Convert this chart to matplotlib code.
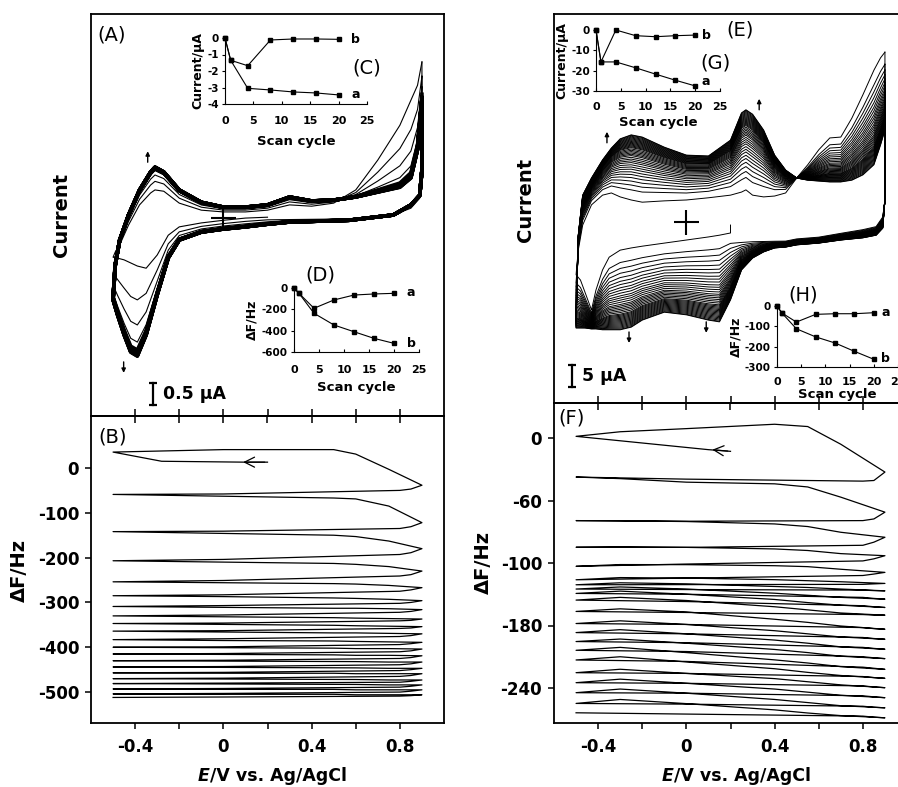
import numpy as np
import matplotlib
matplotlib.use('Agg')
import matplotlib.pyplot as plt

plt.rcParams['font.family'] = ['DejaVu Sans']
plt.rcParams['axes.unicode_minus'] = False

# ================= Panel A : cyclic voltammograms (current in uA) =================
A_fwd_E = [-0.50, -0.49, -0.47, -0.43, -0.38, -0.33, -0.31, -0.27, -0.20, -0.10, 0.00,
           0.10, 0.20, 0.30, 0.40, 0.50, 0.60, 0.70, 0.80, 0.85, 0.88, 0.90]
A_fwd_first = [-0.89, -0.77, -0.61, -0.16, 0.30, 0.57, 0.64, 0.61, 0.34, 0.18, 0.14,
               0.14, 0.18, 0.30, 0.27, 0.34, 0.64, 1.32, 2.11, 2.68, 3.02, 3.55]
A_fwd_last = [-1.86, -1.07, -0.50, 0.07, 0.64, 1.05, 1.16, 1.05, 0.64, 0.36, 0.25,
              0.25, 0.30, 0.48, 0.39, 0.41, 0.48, 0.59, 0.70, 0.91, 1.55, 2.68]
A_rev_E = [0.90, 0.90, 0.89, 0.85, 0.77, 0.57, 0.30, 0.20, 0.10, 0.00, -0.10, -0.20,
           -0.25, -0.30, -0.35, -0.39, -0.42, -0.45, -0.48, -0.50]
A_rev_first = [3.55, 1.09, 0.41, 0.18, 0.07, 0.00, 0.00, 0.02, 0.00, -0.05, -0.11, -0.20,
               -0.39, -0.84, -1.14, -1.09, -1.02, -0.95, -0.91, -0.89]
A_rev_last = [2.68, 1.09, 0.52, 0.30, 0.07, -0.05, -0.09, -0.14, -0.20, -0.25, -0.32, -0.50,
              -0.91, -1.75, -2.66, -3.14, -3.05, -2.66, -2.20, -1.86]
A_start_E = 0.20
# cathodic current at -0.39 V for each of the 20 scans
A_cath_peak = [-1.09, -1.86, -2.43, -2.82, -3.00, -3.03, -3.05, -3.06, -3.07, -3.08,
               -3.09, -3.10, -3.10, -3.11, -3.11, -3.12, -3.12, -3.13, -3.13, -3.14]

# ================= Panel E : cyclic voltammograms (current in uA) =================
E_fwd_E = [-0.50, -0.49, -0.47, -0.43, -0.38, -0.34, -0.30, -0.25, -0.20, -0.10, 0.00,
           0.10, 0.20, 0.25, 0.27, 0.30, 0.35, 0.40, 0.45, 0.50, 0.55, 0.60, 0.65, 0.70,
           0.75, 0.80, 0.85, 0.88, 0.90]
E_fwd_first = [-12.0, -6.4, -0.7, 3.9, 6.1, 6.6, 5.7, 5.0, 4.5, 4.8, 5.0, 5.5, 6.1, 6.8,
               7.3, 6.1, 5.7, 5.9, 6.6, 10.0, 13.0, 16.4, 19.1, 19.3, 23.6, 28.9, 34.5,
               37.3, 38.6]
E_fwd_last = [-24.1, -3.0, 6.1, 10.0, 14.1, 16.8, 18.9, 19.8, 19.3, 17.0, 15.2, 15.0, 18.6,
              24.8, 25.5, 24.5, 20.9, 15.2, 11.8, 10.0, 9.5, 9.3, 9.1, 9.1, 9.5, 10.7,
              13.0, 17.5, 20.9]
E_rev_E = [0.90, 0.90, 0.89, 0.86, 0.80, 0.70, 0.60, 0.50, 0.45, 0.40, 0.35, 0.30, 0.25,
           0.20, 0.15, 0.10, 0.00, -0.10, -0.20, -0.25, -0.30, -0.35, -0.38, -0.41, -0.43,
           -0.46, -0.48, -0.50]
E_rev_first = [38.6, 5.0, 1.6, -0.7, -1.4, -2.3, -3.2, -3.6, -4.1, -4.1, -4.0, -3.8, -3.5,
               -2.5, -3.0, -3.4, -4.1, -4.8, -5.5, -5.9, -6.4, -8.0, -10.9, -15.5, -20.0,
               -15.9, -13.2, -12.0]
E_rev_last = [20.9, 5.0, -1.4, -3.0, -3.6, -4.1, -4.8, -5.2, -5.7, -5.9, -6.8, -8.2, -10.9,
              -17.7, -22.7, -22.3, -21.1, -20.5, -22.3, -23.9, -24.5, -24.5, -24.5, -24.3,
              -24.3, -24.1, -24.1, -24.1]
E_start = (0.20, -0.7)
# anodic current at -0.25 V for each scan
E_anod_peak = [5.0, 7.3, 8.4, 9.3, 10.1, 10.8, 11.4, 12.0, 12.5, 13.0, 13.5, 13.9, 14.3,
               14.7, 15.1, 15.4, 15.7, 16.0, 16.3, 16.6, 16.9, 17.1, 17.3, 17.5, 17.7,
               17.9, 18.1, 18.3, 18.5, 18.7, 18.9, 19.1, 19.3, 19.5, 19.7, 19.8]

# ================= Panel B : frequency change (Hz) =================
B_init_E = [0.20, 0.10, -0.28, -0.50]
B_init_dF = [13, 13, 15, 35.5]
B_fwd_E = [-0.50, 0.00, 0.50, 0.60, 0.75, 0.90]
B_fwd = [[35.5, 41, 41, 31, -3, -38.5],
         [-59, -63, -67, -69, -85, -122],
         [-142, -146, -150, -153, -163, -180],
         [-207, -210, -213, -215, -220, -230],
         [-254, -256, -258, -259, -262, -267],
         [-285, -287, -290, -291, -293, -296],
         [-309, -311, -313, -313, -314, -316],
         [-330, -332, -334, -335, -336, -337],
         [-347, -349, -351, -352, -353, -354],
         [-364, -366, -368, -368, -369, -370],
         [-383, -385, -386, -387, -388, -389],
         [-400, -401, -402, -403, -403, -404],
         [-415, -416, -417, -418, -418, -419],
         [-430, -431, -432, -432, -433, -433],
         [-444, -445, -446, -446, -447, -447],
         [-457, -458, -458, -459, -459, -459],
         [-470, -471, -472, -472, -473, -473],
         [-481, -482, -483, -483, -484, -484],
         [-493, -494, -494, -495, -495, -495],
         [-504, -505, -505, -506, -506, -506]]
B_rev_E = [0.90, 0.85, 0.80, 0.00, -0.50]
B_rev = [[-38.5, -47, -50, -58, -59],
         [-122, -131, -135, -141, -142],
         [-180, -189, -193, -204, -207],
         [-230, -238, -241, -251, -254],
         [-267, -272, -275, -283, -285],
         [-296, -300, -302, -307, -309],
         [-316, -320, -322, -328, -330],
         [-337, -340, -341, -346, -347],
         [-354, -357, -358, -363, -364],
         [-370, -374, -376, -381, -383],
         [-389, -392, -394, -399, -400],
         [-404, -408, -410, -414, -415],
         [-419, -423, -425, -429, -430],
         [-433, -437, -439, -443, -444],
         [-447, -450, -452, -456, -457],
         [-459, -463, -465, -469, -470],
         [-473, -476, -478, -480, -481],
         [-484, -487, -489, -492, -493],
         [-495, -498, -500, -503, -504],
         [-506, -508, -509, -511, -512]]

# ================= Panel F : frequency change (Hz) =================
F_init_E = [0.20, 0.10, -0.50]
F_init_dF = [-12.8, -11.2, 1.6]
F_fwd_E = [-0.50, -0.30, 0.00, 0.40, 0.55, 0.70, 0.90]
F_fwd = [[1.6, 6, 9, 13.2, 11, -6, -32.7],
         [-37.5, -39, -42.4, -44, -47, -56.8, -71.2],
         [-79.3, -79.5, -80.2, -82.5, -85, -90.5, -95.3],
         [-104.9, -104.5, -105, -106.5, -108, -111, -113],
         [-123.2, -121.5, -121.6, -122.6, -123.5, -126, -129],
         [-136.1, -134, -134.5, -136, -137, -138, -139.6],
         [-140.9, -139, -140, -142.5, -143.5, -145, -146.7],
         [-145, -143, -145, -149, -151, -153, -154.7],
         [-149.2, -147, -150, -155, -158, -160.5, -162.7],
         [-155.6, -153, -156, -162, -165, -168, -170.1],
         [-166.5, -164, -167, -174, -177, -180.5, -183.6],
         [-178.1, -175.5, -179, -185, -188, -191, -193.2],
         [-186.8, -184, -188, -194, -197, -200.5, -202.8],
         [-195.4, -193, -197, -203, -206, -209.5, -211.8],
         [-203.8, -201, -206, -213, -216, -219.5, -222.1],
         [-213.1, -210, -215, -221.5, -225, -228, -230.7],
         [-225.3, -222, -226, -231, -234, -237, -239.7],
         [-234.9, -231.5, -235.5, -241, -244, -247, -249.3],
         [-244.5, -241, -245, -251, -254, -257, -259],
         [-254.8, -251, -255, -261, -264, -266.5, -268.6]]
F_rev_E = [0.90, 0.85, 0.80, 0.00, -0.50]
F_rev = [[-32.7, -40.8, -41.4, -39.5, -37.5],
         [-71.2, -77.7, -79.3, -79.9, -79.3],
         [-95.3, -100, -103, -105, -104.9],
         [-113, -116, -118, -121, -123.2],
         [-129, -130.6, -132, -134.5, -136.1],
         [-139.6, -140, -140.5, -140.8, -140.9],
         [-146.7, -146.5, -146, -145.5, -145],
         [-154.7, -154, -153, -150, -149.2],
         [-162.7, -162, -161, -157, -155.6],
         [-170.1, -170, -169.5, -167.5, -166.5],
         [-183.6, -183, -182, -179, -178.1],
         [-193.2, -192.5, -191.5, -188, -186.8],
         [-202.8, -202, -201, -196.5, -195.4],
         [-211.8, -211, -210, -205, -203.8],
         [-222.1, -221, -220, -214.5, -213.1],
         [-230.7, -230, -229, -226, -225.3],
         [-239.7, -239, -238, -235.5, -234.9],
         [-249.3, -248.5, -247.5, -245, -244.5],
         [-259, -258.5, -257.5, -255.5, -254.8],
         [-268.6, -268, -267, -265, -263.8]]
F_ytick_vals = [0, -60, -120, -180, -240]
F_ytick_labels = ['0', '-60', '-100', '-180', '-240']

# ================= Insets =================
scan_cycle = [0, 1, 4, 8, 12, 16, 20]
C_a = [0, -1.35, -3.05, -3.15, -3.27, -3.33, -3.45]
C_b = [0, -1.35, -1.68, -0.12, -0.06, -0.06, -0.08]
D_a = [0, -50, -190, -112, -66, -56, -50]
D_b = [0, -50, -237, -347, -410, -472, -519]
G_a = [0, -15.7, -15.7, -18.6, -21.7, -24.7, -27.5]
G_b = [0, -15.7, 0, -2.8, -3.3, -2.8, -2.5]
H_a = [0, -34, -79, -41, -38, -38, -33]
H_b = [0, -34, -112, -152, -182, -223, -262]

# ---------------------------------------------------------------------------
W, H = 898, 787
fig = plt.figure(figsize=(W / 100, H / 100), dpi=100)


def rect(x0, y0, x1, y1):
    return [x0 / W, 1 - y1 / H, (x1 - x0) / W, (y1 - y0) / H]


def fp(x, y):
    return (x / W, 1 - y / H)


SPW = 1.3
axA = fig.add_axes(rect(91, 14, 444, 416))
axB = fig.add_axes(rect(91, 416, 444, 723))
axE = fig.add_axes(rect(554, 14, 907, 403))
axF = fig.add_axes(rect(554, 403, 907, 723))

for ax in (axA, axB, axE, axF):
    ax.set_xlim(-0.6, 1.0)
    for s in ax.spines.values():
        s.set_linewidth(SPW)

axA.set_ylim(-4.5, 4.64)
axE.set_ylim(-41.14, 47.27)
axB.set_ylim(-569, 116)
axF.set_ylim(-273.6, 33.6)

xt_all = [-0.4, -0.2, 0.0, 0.2, 0.4, 0.6, 0.8]
for ax in (axA, axE):
    ax.set_yticks([])
    ax.set_xticks(xt_all)
    ax.tick_params(axis='x', direction='in', length=5, width=1.1, labelbottom=False)

for ax in (axB, axF):
    ax.set_xticks([-0.4, 0.0, 0.4, 0.8])
    ax.set_xticklabels(['-0.4', '0', '0.4', '0.8'])
    ax.set_xticks([-0.2, 0.2, 0.6], minor=True)
    ax.tick_params(axis='x', which='both', direction='out', length=4.5, width=1.1,
                   labelsize=12, pad=6)
    ax.tick_params(axis='y', direction='out', length=4.5, width=1.1, labelsize=12, pad=4)
    top = ax.secondary_xaxis('top')
    top.set_xticks(xt_all)
    top.tick_params(axis='x', direction='in', length=5, width=1.1, labeltop=False)
    for s in top.spines.values():
        s.set_linewidth(SPW)

axB.set_yticks([0, -100, -200, -300, -400, -500])
axB.set_yticklabels(['0', '-100', '-200', '-300', '-400', '-500'])
axF.set_yticks(F_ytick_vals)
axF.set_yticklabels(F_ytick_labels)
for ax in (axB, axF):
    for t in ax.get_xticklabels() + ax.get_yticklabels():
        t.set_fontweight('bold')


def blend(first, last, w):
    return (1 - w) * np.asarray(first, float) + w * np.asarray(last, float)


# ---- Panel A curves ----
pk = np.asarray(A_cath_peak)
wA = (pk - pk[0]) / (pk[-1] - pk[0])
prev = None
for k, w in enumerate(wA):
    rE = np.asarray(A_rev_E, float)
    rI = blend(A_rev_first, A_rev_last, w)
    if k == 0:
        m = rE <= A_start_E + 1e-9
        rE, rI = rE[m], rI[m]
    else:
        rI[0] = prev
    fI = blend(A_fwd_first, A_fwd_last, w)
    prev = fI[-1]
    lw = 2.6 if w > 0.9 else 0.8
    axA.plot(np.r_[rE, A_fwd_E], np.r_[rI, fI], color='k', lw=lw,
             solid_joinstyle='round', zorder=3 if w <= 0.9 else 2)

# ---- Panel E curves ----
pe = np.asarray(E_anod_peak)
wE = (pe - pe[0]) / (pe[-1] - pe[0])
prev = None
for k, w in enumerate(wE):
    rE = np.asarray(E_rev_E, float)
    rI = blend(E_rev_first, E_rev_last, w)
    if k == 0:
        m = rE <= E_start[0] + 1e-9
        rE = np.r_[E_start[0], rE[m]]
        rI = np.r_[E_start[1], rI[m]]
    else:
        rI[0] = prev
    fI = blend(E_fwd_first, E_fwd_last, w)
    prev = fI[-1]
    axE.plot(np.r_[rE, E_fwd_E], np.r_[rI, fI], color='k', lw=0.7,
             solid_joinstyle='round')

# ---- Panel B / F curves ----
for ax, iE, idF, fE, fwd, rEg, rev in (
        (axB, B_init_E, B_init_dF, B_fwd_E, B_fwd, B_rev_E, B_rev),
        (axF, F_init_E, F_init_dF, F_fwd_E, F_fwd, F_rev_E, F_rev)):
    xs = list(iE)
    ys = list(idF)
    for frow, rrow in zip(fwd, rev):
        xs += list(fE) + list(rEg)
        ys += list(frow) + list(rrow)
    ax.plot(xs, ys, color='k', lw=0.9, solid_joinstyle='round')

axB.annotate('', xy=(0.077, 13), xytext=(0.2, 13),
             arrowprops=dict(arrowstyle='->', lw=0.9, color='k', mutation_scale=18))
axF.annotate('', xy=(0.105, -11.0), xytext=(0.2, -12.8),
             arrowprops=dict(arrowstyle='->', lw=0.9, color='k', mutation_scale=18))

# ---- markers, arrows, scale bars ----
axA.plot([0], [0], marker='+', ms=18, mew=1.5, color='k')
axE.plot([0], [0], marker='+', ms=18, mew=1.5, color='k')


def varrow(ax, x, y0, y1):
    ax.annotate('', xy=(x, y1), xytext=(x, y0),
                arrowprops=dict(arrowstyle='-|>', lw=1.0, color='k', mutation_scale=6,
                                shrinkA=0, shrinkB=0))


varrow(axA, -0.343, 1.27, 1.52)
varrow(axA, -0.452, -3.27, -3.52)
varrow(axE, -0.36, 18.0, 20.5)
varrow(axE, 0.33, 25.5, 28.0)
varrow(axE, -0.26, -25.0, -27.5)
varrow(axE, 0.09, -22.7, -25.2)

axA.plot([-0.321, -0.321], [-3.75, -4.25], color='k', lw=1.6, marker='_', ms=6, mew=1.6)
axA.text(-0.275, -4.0, '0.5 μA', fontsize=12.5, fontweight='bold', va='center', ha='left')
axE.plot([-0.518, -0.518], [-32.5, -37.5], color='k', lw=1.6, marker='_', ms=6, mew=1.6)
axE.text(-0.475, -35.0, '5 μA', fontsize=12.5, fontweight='bold', va='center', ha='left')


# ---- insets ----
def inset(r, a, b, ylim, yticks, ylabel, la, lb, pad, labelpad):
    ax = fig.add_axes(r)
    ax.patch.set_visible(False)
    for series in (a, b):
        ax.plot(scan_cycle, series, color='k', lw=0.8, marker='s', ms=2.2, clip_on=False)
    ax.set_xlim(0, 25)
    ax.set_ylim(*ylim)
    for s in ('top', 'right'):
        ax.spines[s].set_visible(False)
    for s in ('left', 'bottom'):
        ax.spines[s].set_linewidth(0.8)
    ax.set_xticks([0, 5, 10, 15, 20, 25])
    ax.set_xticklabels(['0', '5', '10', '15', '20', '25'])
    ax.set_yticks(yticks)
    ax.set_yticklabels([str(v) for v in yticks])
    ax.tick_params(axis='x', direction='in', length=2.5, width=0.8, pad=pad, labelsize=8)
    ax.tick_params(axis='y', direction='out', length=2.5, width=0.8, pad=2, labelsize=7.5)
    for t in ax.get_xticklabels() + ax.get_yticklabels():
        t.set_fontweight('bold')
    ax.set_xlabel('Scan cycle', fontsize=9.5, fontweight='bold', labelpad=labelpad)
    ax.set_ylabel(ylabel, fontsize=9, fontweight='bold', labelpad=2)
    ax.text(la[0], la[1], 'a', fontsize=9, fontweight='bold', va='center', ha='left')
    ax.text(lb[0], lb[1], 'b', fontsize=9, fontweight='bold', va='center', ha='left')
    return ax


inset(rect(225, 38, 367, 104), C_a, C_b, (-4, 0), [0, -1, -2, -3, -4], 'Current/μA',
      (22.2, -3.4), (22.2, -0.1), 9, 6)
inset(rect(294, 288, 419, 352), D_a, D_b, (-600, 0), [0, -200, -400, -600], 'ΔF/Hz',
      (22.5, -40), (22.5, -516), 9, 5)
inset(rect(596, 30, 720, 91), G_a, G_b, (-30, 0), [0, -10, -20, -30], 'Current/μA',
      (21.3, -25.5), (21.3, -2.5), 8, 3)
inset(rect(777, 306, 898, 367), H_a, H_b, (-300, 0), [0, -100, -200, -300], 'ΔF/Hz',
      (21.5, -30), (21.5, -256), 7, 1)

# ---- texts ----
for lab, (x, y) in (('(A)', (112, 35)), ('(B)', (113, 437)), ('(C)', (367, 68)),
                    ('(D)', (320, 275)), ('(E)', (740, 30)), ('(F)', (572, 418)),
                    ('(G)', (715, 63)), ('(H)', (803, 295))):
    fig.text(*fp(x, y), lab, fontsize=14, ha='center', va='center')

fig.text(*fp(62, 215), 'Current', rotation=90, fontsize=14, fontweight='bold',
         ha='center', va='center')
fig.text(*fp(525, 200), 'Current', rotation=90, fontsize=14, fontweight='bold',
         ha='center', va='center')
fig.text(*fp(19, 570), 'ΔF/Hz', rotation=90, fontsize=14, fontweight='bold',
         ha='center', va='center')
fig.text(*fp(483, 563), 'ΔF/Hz', rotation=90, fontsize=14, fontweight='bold',
         ha='center', va='center')

for ax, x0 in ((axB, 198), (axF, 662)):
    t = ax.text(*fp(x0, 781), 'E', transform=fig.transFigure, fontsize=12.5,
                fontweight='bold', style='italic', ha='left', va='baseline')
    ax.annotate('/V vs. Ag/AgCl', xy=(1, 0), xycoords=t, fontsize=12.5,
                fontweight='bold', ha='left', va='bottom', annotation_clip=False)

fig.savefig('out.png', dpi=100)
